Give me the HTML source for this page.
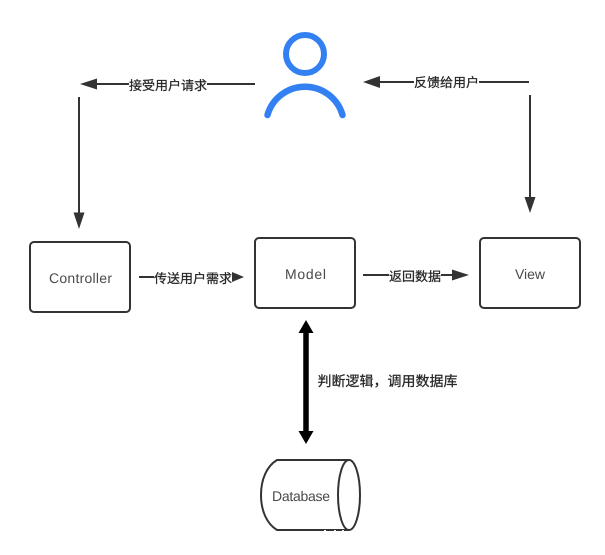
<!DOCTYPE html>
<html>
<head>
<meta charset="utf-8">
<style>
html,body{margin:0;padding:0;background:#fff;width:605px;height:555px;overflow:hidden}
svg{display:block}
text{text-rendering:geometricPrecision}
.n{font-family:"Liberation Sans",sans-serif;font-size:14px;fill:#4a4a4a;text-anchor:middle}
.l{font-family:"Liberation Sans","Noto Sans CJK SC",sans-serif;font-size:13px;fill:#262626;stroke:#262626;stroke-width:.25px;text-anchor:middle}
</style>
</head>
<body>
<svg width="605" height="555" viewBox="0 0 605 555" xmlns="http://www.w3.org/2000/svg">
<rect width="605" height="555" fill="#fff"/>
<!-- person -->
<circle cx="305" cy="54" r="19" fill="none" stroke="#3380f2" stroke-width="6"/>
<path d="M267.500 115 A39 39 0 0 1 342.500 115" fill="none" stroke="#3380f2" stroke-width="6.500" stroke-linecap="round"/>
<!-- arrows -->
<g stroke="#333" stroke-width="2" fill="none">
<path d="M255 84H96"/>
<path d="M79 97V214"/>
<path d="M529 82H379"/>
<path d="M530 95V198"/>
<path d="M139 277H232"/>
<path d="M363 275H453"/>
</g>
<g fill="#333">
<path d="M80 84L97 78.500V89.500Z"/>
<path d="M79 229L73.500 212.500H84.500Z"/>
<path d="M363 82L380 76V88Z"/>
<path d="M530 213L524.500 197H535.500Z"/>
<path d="M244 277L232 272V282Z"/>
<path d="M469 275L452 269.500V280.500Z"/>
</g>
<!-- double arrow -->
<path d="M306 330V433" stroke="#000" stroke-width="5.500" fill="none"/>
<path d="M306 320L313.500 333H298.500Z" fill="#000"/>
<path d="M306 444L298.500 431H313.500Z" fill="#000"/>
<!-- boxes -->
<g fill="#fff" stroke="#333" stroke-width="2">
<rect x="30" y="242" width="100" height="70" rx="4"/>
<rect x="255" y="238" width="100" height="70" rx="4"/>
<rect x="480" y="238" width="100" height="70" rx="4"/>
</g>
<!-- database -->
<path d="M349 460H277C267 466 261 479 261 495C261 511 267 524 277 530H349" fill="#fff" stroke="#333" stroke-width="2"/>
<ellipse cx="349" cy="495" rx="11" ry="35" fill="#fff" stroke="#333" stroke-width="2"/>
<g fill="#fff" stroke="none">
<rect x="324" y="530" width="2" height="1.500"/>
<rect x="334" y="530" width="2" height="1.500"/>
<rect x="342" y="530" width="2" height="1.500"/>
</g>
<!-- node labels -->
<text class="n" x="80.500" y="283" textLength="63" lengthAdjust="spacing">Controller</text>
<text class="n" x="305.500" y="279" textLength="41" lengthAdjust="spacing">Model</text>
<text class="n" x="530" y="279" textLength="30" lengthAdjust="spacing">View</text>
<text class="n" x="301" y="501" textLength="58" lengthAdjust="spacing">Database</text>
<!-- connector labels -->
<rect x="129" y="77" width="78" height="16" fill="#fff"/>
<text class="l" x="168" y="90">接受用户请求</text>
<rect x="414" y="74" width="65" height="16" fill="#fff"/>
<text class="l" x="446.500" y="87">反馈给用户</text>
<rect x="154" y="270" width="78" height="16" fill="#fff"/>
<text class="l" x="193" y="283">传送用户需求</text>
<rect x="389" y="268" width="52" height="16" fill="#fff"/>
<text class="l" x="415" y="281">返回数据</text>
<text class="l" x="387.500" y="386" style="font-size:14px">判断逻辑，调用数据库</text>
</svg>
</body>
</html>
